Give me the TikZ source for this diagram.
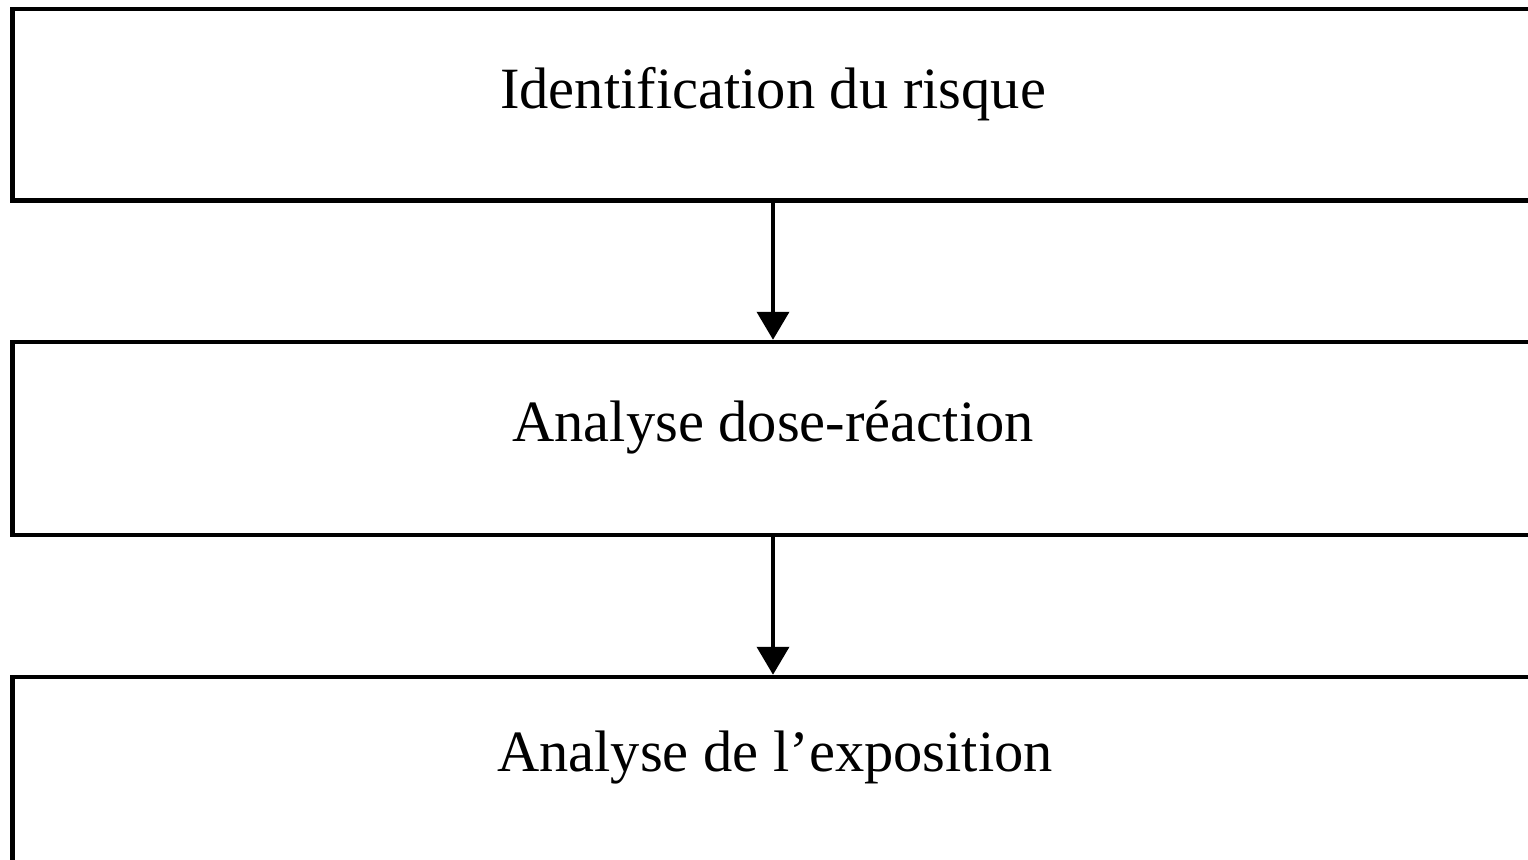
\documentclass[tikz,border=0pt]{standalone}
\usepackage{fontspec}
\setmainfont{Liberation Serif}
\usetikzlibrary{arrows.meta}
\begin{document}
\begin{tikzpicture}[x=1pt,y=-1pt,
  box/.style={draw=black,line width=4.5pt,rectangle,inner sep=0pt},
  lbl/.style={anchor=base,inner sep=0pt,font=\fontsize{58.5}{70}\selectfont},
  flow/.style={line width=4pt,-{Triangle[length=28pt,width=32pt]}}]
\useasboundingbox (0,0) rectangle (1528,859);
\begin{scope}
\clip (0,0) rectangle (1528,859);
\node[box,minimum width=1521pt,minimum height=191.5pt] (b1) at (773,104.75) {};
\node[box,minimum width=1521pt,minimum height=193pt] (b2) at (773,438.5) {};
\node[box,minimum width=1521pt,minimum height=200pt] (b3) at (773,777) {};
\end{scope}
\node[lbl] (t1) at (773,108) {Identification du risque};
\node[lbl] (t2) at (773,441) {Analyse dose-réaction};
\node[lbl] (t3) at (775,771) {Analyse de l’exposition};
\draw[flow] (b1.south) -- (b2.north);
\draw[flow] (b2.south) -- (b3.north);
\end{tikzpicture}
\end{document}
